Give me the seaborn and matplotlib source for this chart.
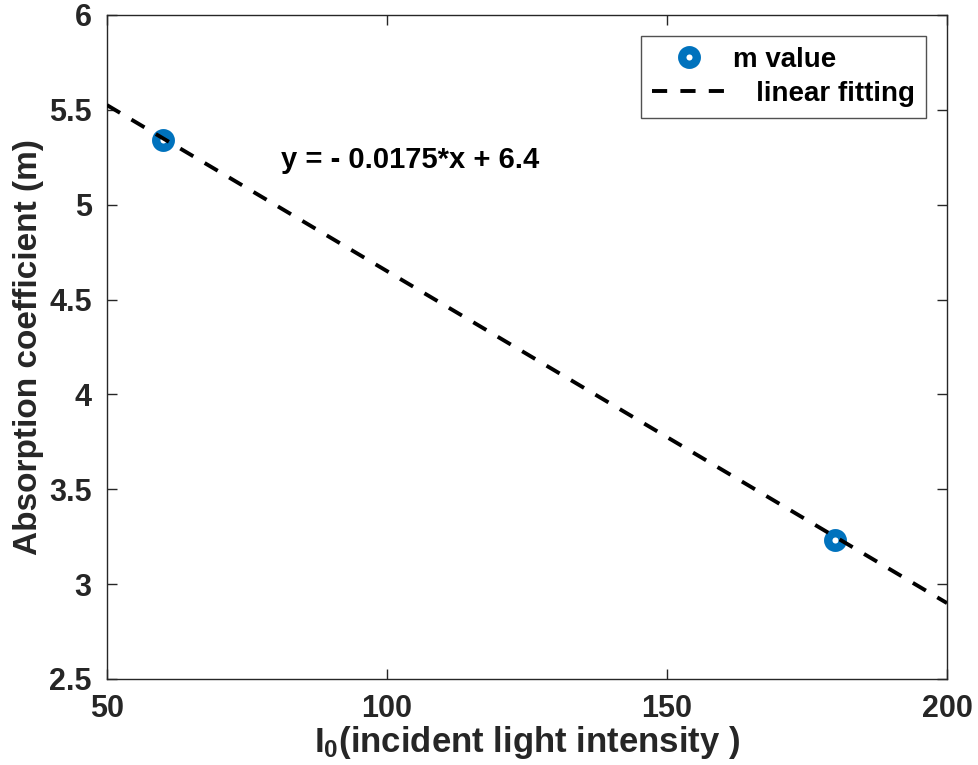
import numpy as np
import pandas as pd
import seaborn as sns
import matplotlib.pyplot as plt
import matplotlib.ticker as ticker

# measured points
intensity = [60, 180]
m_value = [5.34, 3.235]

# linear fit endpoints (y = -0.0175*x + 6.4)
fit_x = [50, 200]
fit_y = [5.525, 2.9]

x_ticks = [50, 100, 150, 200]
y_ticks = [2.5, 3, 3.5, 4, 4.5, 5, 5.5, 6]

sns.set_theme(style="white")
plt.rcParams["font.family"] = ["Liberation Sans", "DejaVu Sans"]
plt.rcParams["font.weight"] = "bold"
plt.rcParams["mathtext.fontset"] = "custom"
plt.rcParams["mathtext.rm"] = "Liberation Sans:bold"
plt.rcParams["mathtext.it"] = "Liberation Sans:bold"
plt.rcParams["mathtext.bf"] = "Liberation Sans:bold"

text_col = "#262626"
blue = "#0072BD"

fig = plt.figure(figsize=(9.79, 7.65), dpi=100)
ax = fig.add_axes([107 / 979, 1 - 679 / 765, (947 - 107) / 979, (679 - 15) / 765])

pts = pd.DataFrame({"x": intensity, "y": m_value})
fit = pd.DataFrame({"x": fit_x, "y": fit_y})

ax.plot(pts["x"], pts["y"], linestyle="none", marker="o", markersize=10.5,
        markerfacecolor="white", markeredgecolor=blue, markeredgewidth=6,
        label="m value", zorder=2)
sns.lineplot(data=fit, x="x", y="y", ax=ax, color="black", linewidth=2.8,
             linestyle=(0, (3.9, 3.4)), label="linear fitting", zorder=3)

ax.text(81, 5.235, "y = - 0.0175*x + 6.4", fontsize=21, fontweight="bold",
        color="black", ha="left", va="center")

ax.set_xlim(50, 200)
ax.set_ylim(2.5, 6)
ax.set_xticks(x_ticks)
ax.set_yticks(y_ticks)
ax.yaxis.set_major_formatter(ticker.FormatStrFormatter("%g"))

ax.set_xlabel(r"I$_{0}$(incident light intensity )", fontsize=25,
              fontweight="bold", color=text_col, labelpad=0)
ax.set_ylabel("Absorption coefficient (m)", fontsize=24, fontweight="bold",
              color=text_col, labelpad=4)

ax.tick_params(axis="both", direction="in", length=7, width=1, colors=text_col,
               labelsize=22, top=True, right=True, bottom=True, left=True, pad=11)
for lab in ax.get_xticklabels() + ax.get_yticklabels():
    lab.set_fontweight("bold")
for s in ax.spines.values():
    s.set_color(text_col)
    s.set_linewidth(1.0)
    s.set_visible(True)
ax.grid(False)

handles, labels = ax.get_legend_handles_labels()
order = [labels.index("m value"), labels.index("linear fitting")]
leg = ax.legend([handles[i] for i in order], ["m value", "   linear fitting"],
                loc="upper right", bbox_to_anchor=(0.975, 0.969), fontsize=20,
                frameon=True, fancybox=False, edgecolor=text_col,
                handlelength=2.6, handletextpad=0.3, borderpad=0.4,
                labelspacing=0.3, borderaxespad=0)
leg.get_frame().set_linewidth(1.0)
for t in leg.get_texts():
    t.set_fontweight("bold")
    t.set_color("black")

fig.savefig("out.png", dpi=100)
